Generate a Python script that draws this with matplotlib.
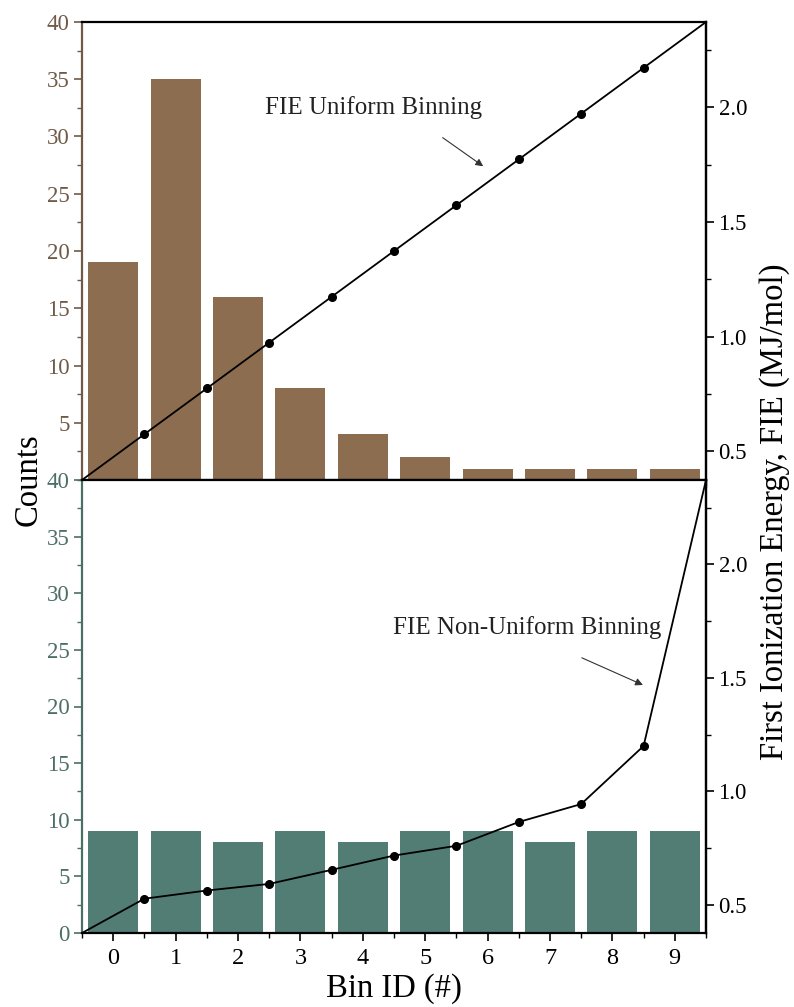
import matplotlib
matplotlib.use("Agg")
import matplotlib.pyplot as plt
import numpy as np

plt.rcParams["font.family"] = ["Liberation Serif", "DejaVu Serif"]

# ---- data -------------------------------------------------------------
bin_ids = list(range(10))
uniform_counts = [19, 35, 16, 8, 4, 2, 1, 1, 1, 1]
nonuniform_counts = [9, 9, 8, 9, 8, 9, 9, 8, 9, 9]

fie_min = 0.3757   # MJ/mol
fie_max = 2.3723   # MJ/mol
# bin edges (MJ/mol), outer edges are fie_min / fie_max
uniform_edges = [0.3757, 0.5754, 0.7750, 0.9747, 1.1743, 1.3740,
                 1.5737, 1.7733, 1.9730, 2.1726, 2.3723]
nonuniform_edges = [0.3757, 0.527, 0.563, 0.592, 0.654, 0.717,
                    0.760, 0.865, 0.944, 1.200, 2.3723]
edge_pos = [-0.5, 0.5, 1.5, 2.5, 3.5, 4.5, 5.5, 6.5, 7.5, 8.5, 9.5]

x_ticklabels = [str(i) for i in bin_ids]

# ---- styling ----------------------------------------------------------
brown = "#8c6d4f"
brown_txt = "#6f5a47"
green = "#517d74"
green_txt = "#4b6f67"
tick_fs = 16.5
label_fs = 23.5

W, H = 794, 1007
fig = plt.figure(figsize=(W / 100, H / 100), dpi=100)
left, right = 82 / W, 706 / W
ax_top = fig.add_axes([left, 1 - 480 / H, right - left, (480 - 22) / H])
ax_bot = fig.add_axes([left, 1 - 933 / H, right - left, (933 - 480) / H])


def style_panel(ax, bar_color, txt_color, counts, yticks):
    ax.bar(bin_ids, counts, width=0.8, color=bar_color, zorder=2)
    ax.set_xlim(-0.5, 9.5)
    ax.set_ylim(0, 40)
    ax.set_yticks(yticks)
    ax.set_yticks(np.arange(0, 40.1, 2.5), minor=True)
    ax.tick_params(axis="y", which="major", direction="out", length=6,
                   width=1.2, color=txt_color, labelcolor=txt_color,
                   labelsize=tick_fs, pad=3)
    ax.tick_params(axis="y", which="minor", direction="out", length=3.5,
                   width=1.0, color=txt_color)
    ax.tick_params(axis="x", which="major", direction="out", length=6,
                   width=1.2, labelsize=tick_fs + 1, pad=5)
    ax.tick_params(axis="x", which="minor", direction="out", length=3.5,
                   width=1.0)
    ax.spines["left"].set_color(txt_color)
    ax.spines["left"].set_linewidth(1.6)
    for s in ("top", "right", "bottom"):
        ax.spines[s].set_linewidth(1.6)
        ax.spines[s].set_color("black")


style_panel(ax_top, brown, brown_txt, uniform_counts, np.arange(5, 41, 5))
style_panel(ax_bot, green, green_txt, nonuniform_counts, np.arange(0, 41, 5))

ax_top.set_xticks(bin_ids)
ax_top.set_xticks(edge_pos, minor=True)
ax_top.tick_params(axis="x", which="both", labelbottom=False, length=5)
ax_bot.set_xticks(bin_ids)
ax_bot.set_xticks(edge_pos, minor=True)
ax_bot.set_xticklabels(x_ticklabels)
ax_bot.set_xlabel("Bin ID (#)", fontsize=label_fs, labelpad=3)


def fie_axis(ax, edges):
    tw = ax.twinx()
    tw.plot(edge_pos, edges, color="black", lw=1.3, zorder=3,
            clip_on=False)
    tw.plot(edge_pos[1:-1], edges[1:-1], "o", color="black", ms=5.5,
            zorder=4)
    tw.set_ylim(fie_min, fie_max)
    tw.set_yticks([0.5, 1.0, 1.5, 2.0])
    tw.set_yticks(np.arange(0.5, 2.4, 0.25), minor=True)
    tw.tick_params(axis="y", which="major", direction="out", length=6,
                   width=1.2, labelsize=tick_fs, pad=3)
    tw.tick_params(axis="y", which="minor", direction="out", length=3.5,
                   width=1.0)
    tw.spines["right"].set_linewidth(1.6)
    tw.spines["left"].set_visible(False)
    tw.spines["top"].set_visible(False)
    tw.spines["bottom"].set_visible(False)
    return tw


fie_axis(ax_top, uniform_edges)
fie_axis(ax_bot, nonuniform_edges)

arrow = dict(arrowstyle="-|>", lw=0.8, color="#333333", mutation_scale=11,
             shrinkA=0, shrinkB=0)
ax_top.annotate("", xy=(5.93, 27.4), xytext=(5.28, 29.9), arrowprops=arrow)
ax_top.text(2.43, 32.5, "FIE Uniform Binning", fontsize=18, va="center",
            ha="left", color="#222222")
ax_bot.annotate("", xy=(8.49, 21.9), xytext=(7.51, 24.3), arrowprops=arrow)
ax_bot.text(4.48, 27.0, "FIE Non-Uniform Binning", fontsize=18,
            va="center", ha="left", color="#222222")

fig.text(28 / W, 1 - 480 / H, "Counts", rotation=90, fontsize=label_fs,
         ha="center", va="center")
fig.text(775 / W, 1 - 512 / H, "First Ionization Energy, FIE (MJ/mol)",
         rotation=90, fontsize=label_fs, ha="center", va="center")

fig.savefig("out.png", dpi=100)
